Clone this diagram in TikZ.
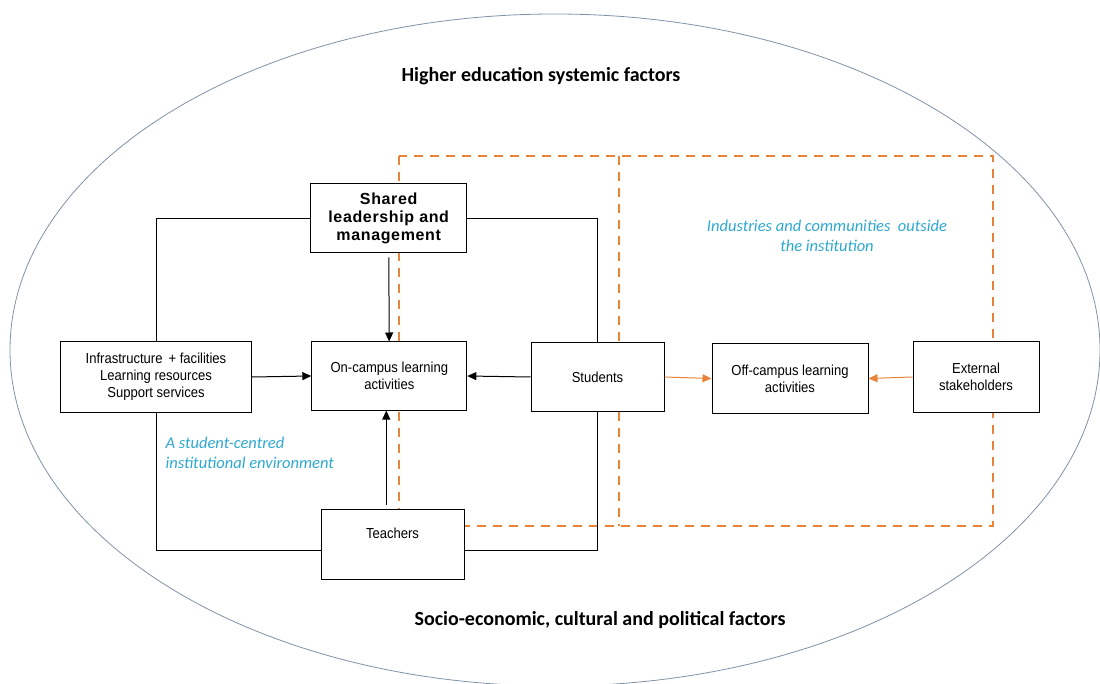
\documentclass[tikz,border=0pt]{standalone}
\usepackage{fontspec}
\setmainfont{Liberation Sans}
\newfontfamily\narrowfont{Liberation Sans}[FakeStretch=0.9]
\newfontfamily\wideboldfont{Liberation Sans Bold}[LetterSpace=4]
\newfontfamily\calfont{Carlito}
\usetikzlibrary{arrows.meta,positioning}
\definecolor{edgeorange}{RGB}{232,132,58}
\definecolor{labelblue}{RGB}{46,168,208}
\definecolor{ringgray}{RGB}{128,146,166}

\begin{document}
\begin{tikzpicture}[x=1pt, y=-1pt,
        box/.style={draw, line width=1pt, fill=white, align=center, inner sep=2pt,
            font=\narrowfont\fontsize{14.5}{17}\selectfont},
        arr/.style={-{Triangle[length=9pt,width=8pt]}, line width=1pt},
        oarr/.style={-{Triangle[length=9pt,width=8pt]}, line width=1pt, edgeorange},
        region/.style={edgeorange, line width=2pt, dash pattern=on 9pt off 7pt},
        heading/.style={font=\calfont\bfseries\fontsize{20}{24}\selectfont},
        note/.style={labelblue, font=\calfont\itshape\fontsize{16.5}{19.5}\selectfont}]
        \useasboundingbox (0,0) rectangle (1100,684);
        % Outer ring
        \draw [ringgray, line width=0.8pt] (555,350) ellipse [x radius=545, y radius=336];
        % Dashed regions
        \draw [region] (399,156) rectangle (993,526);
        \draw [region] (619,156) -- (619,526);

        % Boxes
        \node [box, minimum width=156pt, minimum height=69pt,
            font=\wideboldfont\fontsize{16}{18}\selectfont] (lead) at (388.7,218.5)
            {Shared\\leadership and\\management};
        \node [box, minimum width=191pt, minimum height=70pt] (infra) at (156,377)
            {Infrastructure \,+ facilities\\Learning resources\\Support services};
        \node [box, minimum width=155pt, minimum height=68pt] (oncamp) at (389.3,376)
            {On-campus learning\\activities};
        \node [box, minimum width=133pt, minimum height=68pt] (students) at (597.5,377)
            {Students};
        \node [box, minimum width=156pt, minimum height=69pt] (offcamp) at (790,378.5)
            {Off-campus learning\\activities};
        \node [box, minimum width=126pt, minimum height=70pt] (external) at (976,377)
            {External\\stakeholders};
        \node [box, minimum width=143pt, minimum height=70pt] (teachers) at (392.5,544)
            {Teachers\\ \strut};

        % Frame round the institution
        \draw [line width=0.9pt] (lead.west) -| (infra.north);
        \draw [line width=0.9pt] (infra.south) |- ([yshift=-6pt]teachers.west);
        \draw [line width=0.9pt] (lead.east) -| (students.north);
        \draw [line width=0.9pt] (students.south) |- ([yshift=-6pt]teachers.east);

        % Arrows
        \draw [arr, shorten <=4pt] (lead) -- (oncamp);
        \draw [arr] (infra.east) -- (oncamp.west);
        \draw [arr] (students.west) -- (oncamp.east);
        \draw [arr, shorten <=4pt] ([xshift=-3pt]oncamp.south |- teachers.north) -- ([xshift=-3pt]oncamp.south);
        \draw [oarr] (students.east) -- (offcamp.west);
        \draw [oarr] (external.west) -- (offcamp.east);

        % Labels
        \node [heading] (top) at (541,76) {Higher education systemic factors};
        \node [heading] (bottom) at (600,620) {Socio-economic, cultural and political factors};
        \node [note, align=center] (outside) at (827,236)
            {Industries and communities \ outside\\the institution};
        \node [note, align=left, anchor=west] (inside) at (162,453)
            {A student-centred\\institutional environment};
\end{tikzpicture}
\end{document}
